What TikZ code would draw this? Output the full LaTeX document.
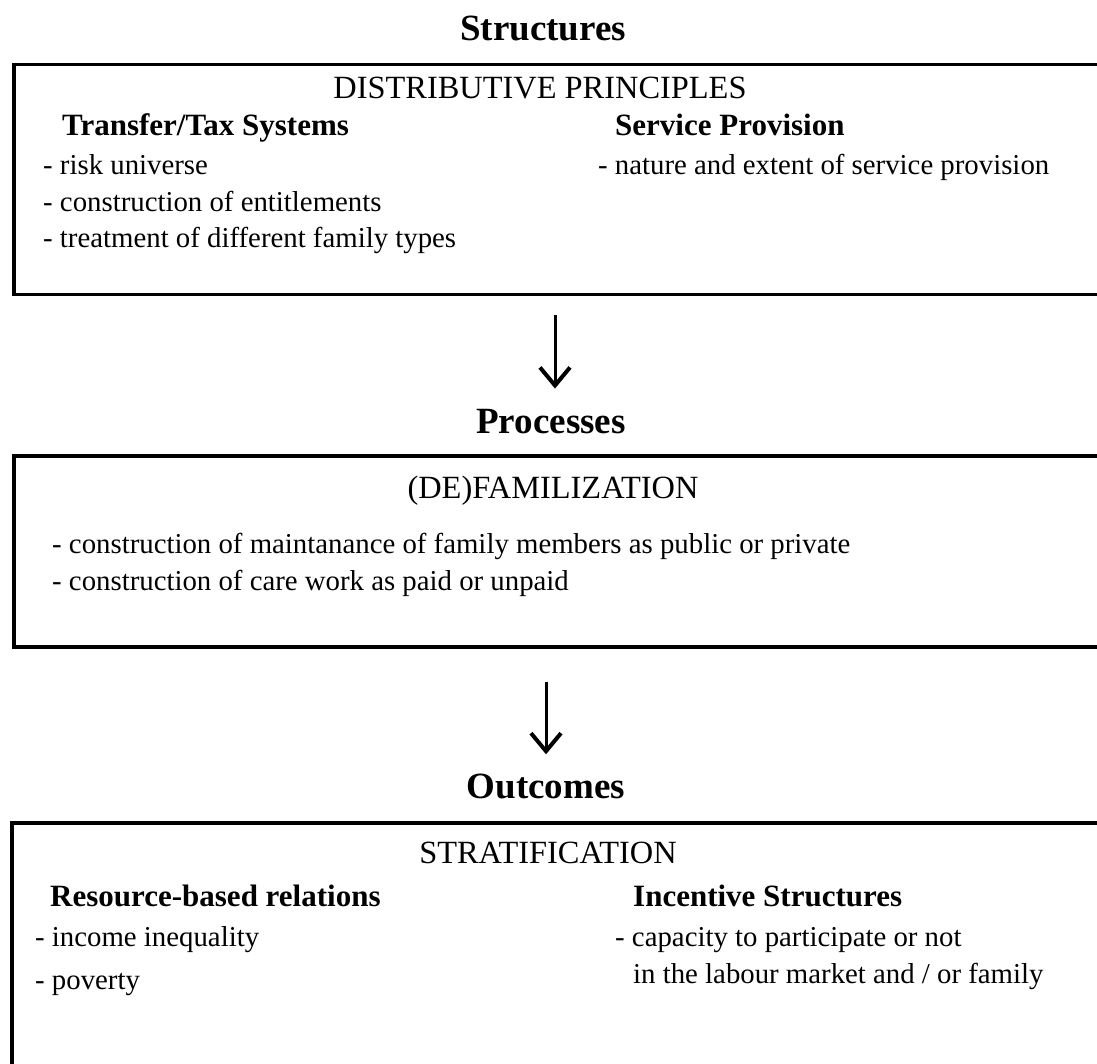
\documentclass[tikz,border=0pt]{standalone}
\usepackage{fontspec}
\setmainfont{Liberation Serif}
\usetikzlibrary{arrows.meta}

\begin{document}
\begin{tikzpicture}[x=1pt,y=-1pt,
   frame/.style={draw,line width=3.5pt,anchor=north west,minimum width=1110pt,inner sep=0pt},
   level/.style={font=\fontsize{37}{40}\selectfont\bfseries,anchor=base,inner sep=0pt},
   caps/.style={font=\fontsize{32.4}{36}\selectfont,anchor=base,inner sep=0pt},
   sub/.style={font=\fontsize{31}{34}\selectfont\bfseries,anchor=base west,inner sep=0pt},
   item/.style={font=\fontsize{28.8}{32}\selectfont,anchor=base west,inner sep=0pt},
   flow/.style={line width=3pt,-{Straight Barb[length=18pt,width=30pt,line width=4pt]}}]
   \useasboundingbox (0,0) rectangle (1097,1064);
   \clip (0,0) rectangle (1097,1064);

   \node[level] (structures) at (543,41) {Structures};
   \node[frame,minimum height=230pt] (strbox) at (12,63) {};
   \node[caps] (distrib) at (540,99) {DISTRIBUTIVE PRINCIPLES};
   \node[sub] (tax) at (62,136) {Transfer/Tax Systems};
   \node[sub] (service) at (615,136) {Service Provision};
   \node[item] (tax1) at (43,175) {- risk universe};
   \node[item] (tax2) at (43,212) {- construction of entitlements};
   \node[item] (tax3) at (43,248) {- treatment of different family types};
   \node[item] (serv1) at (598,175) {- nature and extent of service provision};

   \node[level] (processes) at (551,433) {Processes};
   \node[frame,minimum height=191pt] (procbox) at (12,454) {};
   \node[caps] (defam) at (553,498) {(DE)FAMILIZATION};
   \node[item] (proc1) at (52,553) {- construction of maintanance of family members as public or private};
   \node[item] (proc2) at (52,590) {- construction of care work as paid or unpaid};

   \node[level] (outcomes) at (546,798) {Outcomes};
   \node[frame,minimum height=300pt] (outbox) at (10,821) {};
   \node[caps] (strat) at (548,863) {STRATIFICATION};
   \node[sub] (resource) at (50,906) {Resource-based relations};
   \node[sub] (incentive) at (633,906) {Incentive Structures};
   \node[item] (res1) at (35,946) {- income inequality};
   \node[item] (res2) at (35,989) {- poverty};
   \node[item] (inc1) at (615,946) {- capacity to participate or not};
   \node[item] (inc2) at (633,983) {in the labour market and / or family};

   \draw[flow,shorten <=19pt,shorten >=20pt] (strbox.south -| 555,0) -- (processes.north -| 555,0);
   \draw[flow,shorten <=33pt,shorten >=19pt] (procbox.south -| outcomes.north) -- (outcomes.north);
\end{tikzpicture}
\end{document}
